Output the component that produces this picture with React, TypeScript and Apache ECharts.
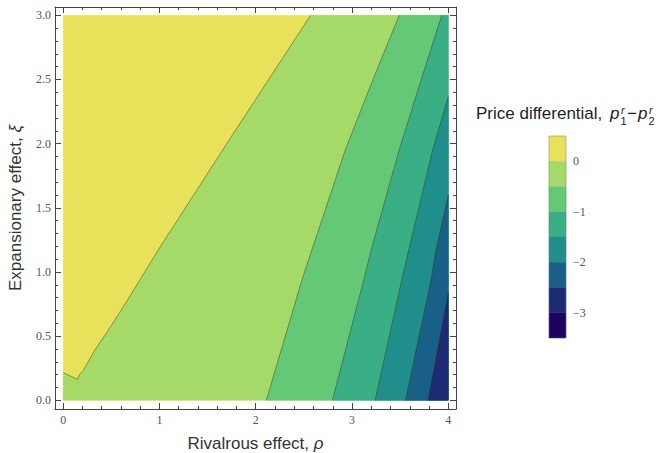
import React, { useEffect, useRef } from 'react';
import * as echarts from 'echarts';

// ---- tick labels ----
const xTickLabels = [0, 1, 2, 3, 4];
const yTickLabels = [0, 0.5, 1, 1.5, 2, 2.5, 3];
const legendTickLabels = [0, -1, -2, -3];

// ---- contour levels & band colours (top band first) ----
const levels = [0.5, 0, -0.5, -1, -1.5, -2, -2.5, -3, -3.5];
const bandColors = ['#E8E15A', '#A6DA68', '#64C877', '#3AAF85', '#208F8B', '#186088', '#1C2B74', '#1D0162'];

// ---- contour lines (rho, xi) ----
const contour0 = [[0, 0.215], [0.149, 0.164], [0.173, 0.205], [0.208, 0.231], [0.329, 0.392], [0.45, 0.525], [0.588, 0.685], [0.675, 0.79], [1.003, 1.19], [1.764, 2.075], [2.57, 3]];
const contourM05 = [[2.11, 0], [2.48, 0.938], [2.583, 1.171], [2.93, 1.951], [3.216, 2.496], [3.49, 3]];
const contourM1 = [[2.797, 0], [3.122, 0.938], [3.199, 1.171], [3.49, 1.951], [3.718, 2.497], [3.932, 3]];
const contourM15 = [[3.24, 0], [3.517, 0.938], [3.589, 1.171], [3.838, 1.951], [4, 2.367]];
const contourM2 = [[3.555, 0], [3.821, 0.938], [3.873, 1.171], [4, 1.6]];
const contourM25 = [[3.79, 0], [4, 0.834]];
const contourLines = [contour0, contourM05, contourM1, contourM15, contourM2, contourM25];

const X_MIN = 0, X_MAX = 4, Y_MIN = 0, Y_MAX = 3;

function rightRegion(line: number[][]) {
  const pts = line.slice();
  const start = line[0];
  const end = line[line.length - 1];
  if (end[1] >= Y_MAX) pts.push([X_MAX, Y_MAX]);
  pts.push([X_MAX, Y_MIN]);
  if (start[0] <= X_MIN) pts.push([X_MIN, Y_MIN]);
  return pts;
}

const regions = [
  { pts: [[X_MIN, Y_MIN], [X_MIN, Y_MAX], [X_MAX, Y_MAX], [X_MAX, Y_MIN]], color: bandColors[0] },
  ...contourLines.map((l, i) => ({ pts: rightRegion(l), color: bandColors[i + 1] })),
];

function steps(a: number, b: number, s: number, skip: number) {
  const out: number[] = [];
  const n = Math.round((b - a) / s);
  for (let i = 0; i <= n; i++) {
    const v = +(a + i * s).toFixed(4);
    if (Math.abs(v / skip - Math.round(v / skip)) > 1e-6) out.push(v);
  }
  return out;
}
const xMinor = steps(0, 4, 0.2, 1);
const yMinor = steps(0, 3, 0.1, 0.5);

const SERIF = 'Liberation Serif';
const SANS = 'Liberation Sans';
const FRAME = '#444';
const TICKLBL = '#555';

function tickAxis(kind: 'x' | 'y', position: string, ticks: number[], len: number, showLine: boolean, extra: any = {}) {
  const range = kind === 'x' ? { min: -0.085, max: 4.08 } : { min: -0.068, max: 3.065 };
  return {
    type: 'value',
    gridIndex: 0,
    position,
    ...range,
    axisLine: { show: showLine, onZero: false, lineStyle: { color: FRAME, width: 1 } },
    axisTick: { show: true, inside: true, length: len, customValues: ticks, lineStyle: { color: FRAME, width: 1 } },
    axisLabel: { show: false },
    splitLine: { show: false },
    ...extra,
  };
}

export default function App() {
  const ref = useRef<HTMLDivElement>(null);
  useEffect(() => {
    const chart = echarts.init(ref.current!, undefined, { renderer: 'svg' });
    const fmtLegend = (v: number) => (v < 0 ? '\u2212' + -v : String(v));
    const option: any = {
      animation: false,
      backgroundColor: '#fff',
      grid: [
        { left: 55, top: 7, width: 401, height: 402, outerBoundsMode: 'none', containLabel: false },
        { left: 549, top: 136, width: 17, height: 202, outerBoundsMode: 'none', containLabel: false },
      ],
      xAxis: [
        tickAxis('x', 'bottom', xTickLabels, 6, true, {
          axisLabel: { show: true, customValues: xTickLabels, margin: 5, color: TICKLBL, fontFamily: SERIF, fontSize: 12 },
          name: 'Rivalrous effect, {i|\u03c1}',
          nameLocation: 'middle',
          nameGap: 26,
          nameTextStyle: { fontFamily: SANS, fontSize: 17, color: '#333', rich: { i: { fontFamily: SANS, fontSize: 17, fontStyle: 'italic', color: '#333' } } },
        }),
        tickAxis('x', 'bottom', xMinor, 3, false),
        tickAxis('x', 'top', xTickLabels, 6, true),
        tickAxis('x', 'top', xMinor, 3, false),
        { type: 'value', gridIndex: 1, min: 0, max: 1, show: false },
      ],
      yAxis: [
        tickAxis('y', 'left', yTickLabels, 6, true, {
          axisLabel: { show: true, customValues: yTickLabels, margin: 4, color: TICKLBL, fontFamily: SERIF, fontSize: 12, formatter: (v: number) => v.toFixed(1) },
          name: 'Expansionary effect, {i|\u03be}',
          nameLocation: 'middle',
          nameGap: 31,
          nameTextStyle: { fontFamily: SANS, fontSize: 17, color: '#333', rich: { i: { fontFamily: SANS, fontSize: 17, fontStyle: 'italic', color: '#333' } } },
        }),
        tickAxis('y', 'left', yMinor, 3, false),
        tickAxis('y', 'right', yTickLabels, 6, true),
        tickAxis('y', 'right', yMinor, 3, false),
        {
          type: 'value', gridIndex: 1, position: 'right', min: -3.5, max: 0.5,
          axisLine: { show: false },
          axisTick: { show: true, length: 5, customValues: legendTickLabels, lineStyle: { color: '#888' } },
          axisLabel: { show: true, customValues: legendTickLabels, margin: 7, color: TICKLBL, fontFamily: SERIF, fontSize: 12, formatter: fmtLegend },
          splitLine: { show: false },
        },
      ],
      series: [
        {
          type: 'custom',
          xAxisIndex: 0,
          yAxisIndex: 0,
          silent: true,
          data: regions.map((_, i) => [0, 0, i]),
          renderItem: (params: any, api: any) => {
            const r = regions[params.dataIndex];
            return { type: 'polygon', shape: { points: r.pts.map((p) => api.coord(p)) }, style: { fill: r.color, stroke: r.color, lineWidth: 0.3 } };
          },
        },
        {
          type: 'custom',
          xAxisIndex: 0,
          yAxisIndex: 0,
          silent: true,
          data: contourLines.map((_, i) => [0, 0, i]),
          renderItem: (params: any, api: any) => {
            const l = contourLines[params.dataIndex];
            return { type: 'polyline', shape: { points: l.map((p) => api.coord(p)) }, style: { fill: null, stroke: 'rgba(70,50,10,0.5)', lineWidth: 0.9 } };
          },
        },
        {
          type: 'custom',
          xAxisIndex: 4,
          yAxisIndex: 4,
          silent: true,
          data: bandColors.map((_, i) => [levels[i + 1], levels[i], i]),
          renderItem: (params: any, api: any) => {
            const i = params.dataIndex;
            const a = api.coord([0, levels[i]]);
            const b = api.coord([1, levels[i + 1]]);
            return { type: 'rect', shape: { x: a[0], y: a[1], width: b[0] - a[0], height: b[1] - a[1] }, style: { fill: bandColors[i], stroke: bandColors[i], lineWidth: 0.3 } };
          },
        },
      ],
      graphic: [
        { type: 'rect', silent: true, shape: { x: 549, y: 136, width: 17, height: 202 }, style: { fill: null, stroke: 'rgba(120,120,120,0.45)', lineWidth: 1 }, z: 100 },
        { type: 'text', silent: true, x: 476, y: 113, style: { text: 'Price differential, ', fontFamily: SANS, fontSize: 17, fill: '#222', align: 'left', verticalAlign: 'middle' } },
        { type: 'text', silent: true, x: 610, y: 113, style: { text: 'p', fontFamily: SANS, fontSize: 17, fontStyle: 'italic', fill: '#222', align: 'left', verticalAlign: 'middle' } },
        { type: 'text', silent: true, x: 621, y: 109.5, style: { text: 'r', fontFamily: SANS, fontSize: 11, fontStyle: 'italic', fill: '#222', align: 'left', verticalAlign: 'middle' } },
        { type: 'text', silent: true, x: 620.5, y: 121, style: { text: '1', fontFamily: SANS, fontSize: 11, fill: '#222', align: 'left', verticalAlign: 'middle' } },
        { type: 'text', silent: true, x: 627, y: 113, style: { text: '\u2212', fontFamily: SANS, fontSize: 17, fill: '#222', align: 'left', verticalAlign: 'middle' } },
        { type: 'text', silent: true, x: 638, y: 113, style: { text: 'p', fontFamily: SANS, fontSize: 17, fontStyle: 'italic', fill: '#222', align: 'left', verticalAlign: 'middle' } },
        { type: 'text', silent: true, x: 649, y: 109.5, style: { text: 'r', fontFamily: SANS, fontSize: 11, fontStyle: 'italic', fill: '#222', align: 'left', verticalAlign: 'middle' } },
        { type: 'text', silent: true, x: 648.5, y: 121, style: { text: '2', fontFamily: SANS, fontSize: 11, fill: '#222', align: 'left', verticalAlign: 'middle' } },
      ],
    };
    chart.setOption(option);
    return () => chart.dispose();
  }, []);
  return <div ref={ref} style={{ position: 'fixed', left: 0, top: 0, width: 661, height: 453 }} />;
}
